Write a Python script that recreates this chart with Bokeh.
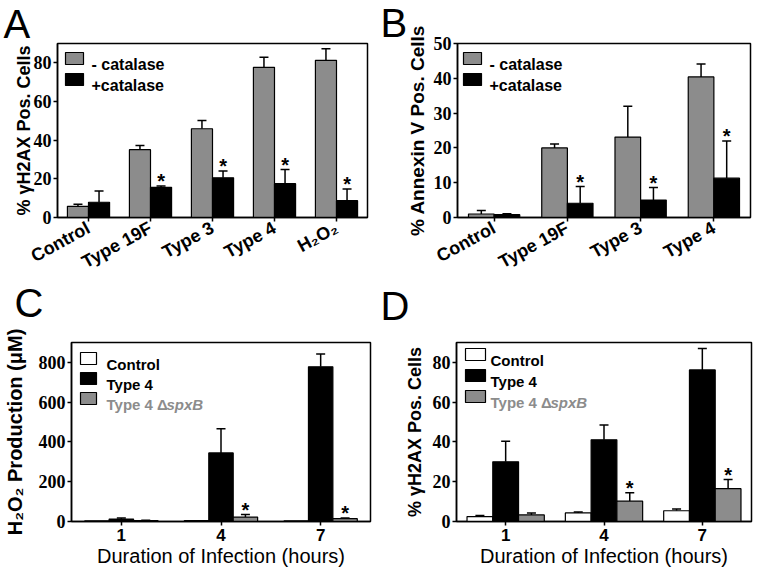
import numpy as np
from bokeh.plotting import figure
from bokeh.layouts import column, row
from bokeh.models import (Range1d, FixedTicker, ColumnDataSource, Whisker, TeeHead,
                          Label, BoxAnnotation, Title)
from bokeh.core.properties import value
from bokeh.embed import file_html
from bokeh.resources import INLINE

FONT = "Liberation Sans"
TICKFONT = "Liberation Sans Narrow"
GREY = "#8c8c8c"

# ---------------- data ----------------
# Panel A: % gammaH2AX positive cells
a_categories = ["Control", "Type 19F", "Type 3", "Type 4", "H₂O₂"]
a_minus = [5.8, 35.1, 45.9, 77.7, 81.3]
a_minus_err = [1.0, 2.1, 4.3, 5.2, 6.0]
a_plus = [7.9, 15.6, 20.5, 17.5, 8.7]
a_plus_err = [5.8, 0.7, 3.5, 7.3, 6.0]
a_plus_sig = [False, True, True, True, True]
a_yticks = [0, 20, 40, 60, 80]

# Panel B: % Annexin V positive cells
b_categories = ["Control", "Type 19F", "Type 3", "Type 4"]
b_minus = [1.0, 20.0, 23.1, 40.4]
b_minus_err = [1.0, 1.1, 8.9, 3.7]
b_plus = [0.8, 4.1, 5.0, 11.3]
b_plus_err = [0.3, 4.8, 3.6, 10.7]
b_plus_sig = [False, True, True, True]
b_yticks = [0, 10, 20, 30, 40, 50]

# Panel C: H2O2 production (uM)
c_hours = ["1", "4", "7"]
c_control = [3, 5, 3]
c_control_err = [0, 0, 0]
c_type4 = [12, 345, 778]
c_type4_err = [6, 121, 64]
c_spxb = [5, 22, 14]
c_spxb_err = [1, 13, 4]
c_spxb_sig = [False, True, True]
c_yticks = [0, 200, 400, 600, 800]

# Panel D: % gammaH2AX positive cells over time
d_hours = ["1", "4", "7"]
d_control = [2.5, 4.3, 5.4]
d_control_err = [0.5, 0.5, 0.9]
d_type4 = [30.0, 41.1, 76.2]
d_type4_err = [10.4, 7.4, 10.8]
d_spxb = [3.3, 10.2, 16.5]
d_spxb_err = [1.0, 4.2, 4.6]
d_spxb_sig = [False, True, True]
d_yticks = [0, 20, 40, 60, 80]


def base_fig(width, height, left, right, top, bottom, labels, ymax, yticks):
    n = len(labels)
    p = figure(width=width, height=height, x_range=Range1d(-0.5, n - 0.5),
               y_range=Range1d(0, ymax), output_backend="svg", toolbar_location=None,
               min_border_left=left, min_border_right=right, min_border_top=top,
               min_border_bottom=bottom, title=None)
    p.xgrid.visible = False
    p.ygrid.visible = False
    p.outline_line_color = "black"
    p.outline_line_width = 1.5
    p.outline_line_alpha = 1
    p.border_fill_color = "white"
    for ax in (p.xaxis[0], p.yaxis[0]):
        ax.axis_line_width = 1.5
        ax.axis_line_color = "black"
        ax.major_tick_line_width = 1.5
        ax.major_tick_line_color = "black"
        ax.major_tick_out = 4
        ax.major_tick_in = 0
        ax.minor_tick_out = 0
        ax.minor_tick_in = 0
        ax.major_label_text_font = FONT
        ax.major_label_text_font_style = "bold"
        ax.major_label_text_color = "black"
        ax.axis_label_text_font = FONT
        ax.axis_label_text_color = "black"
        ax.axis_label_text_font_style = "bold"
    p.xaxis.ticker = FixedTicker(ticks=list(range(n)))
    p.xaxis.major_label_overrides = {i: lab for i, lab in enumerate(labels)}
    p.yaxis.ticker = FixedTicker(ticks=yticks)
    p.yaxis.major_label_text_font = TICKFONT
    p.yaxis.major_label_text_font_size = "18px"
    p.yaxis.major_label_standoff = 2
    return p


def draw_bars(p, centers, vals, width, color):
    src = ColumnDataSource(dict(x=list(centers), top=list(vals)))
    p.vbar(x="x", top="top", bottom=0, width=width, source=src,
           fill_color=color, line_color="black", line_width=1.2)


def draw_errs(p, centers, vals, errs, sig=None):
    keep = [i for i, e in enumerate(errs) if e > 0]
    src = ColumnDataSource(dict(
        x=[centers[i] for i in keep],
        lo=[vals[i] for i in keep],
        hi=[vals[i] + errs[i] for i in keep]))
    w = Whisker(base="x", lower="lo", upper="hi", source=src, dimension="height",
                line_color="black", line_width=1.5, lower_head=None,
                upper_head=TeeHead(size=9, line_width=1.5, line_color="black"))
    p.add_layout(w)
    if sig is not None:
        idx = [i for i, s in enumerate(sig) if s]
        ssrc = ColumnDataSource(dict(x=[centers[i] for i in idx],
                                     y=[vals[i] + errs[i] for i in idx],
                                     t=["*"] * len(idx)))
        p.text(x="x", y="y", text="t", source=ssrc, text_font=value(FONT),
               text_font_style="bold", text_font_size="20px", text_align="center",
               text_baseline="alphabetic", y_offset=-5, text_color="black")


def draw_legend(p, frame_h, entries, left=8, top=10, sw=18, sh=12, step=21, gap=8,
                size="16px"):
    for i, (color, parts) in enumerate(entries):
        t = top + i * step
        p.add_layout(BoxAnnotation(left=left, right=left + sw, top=frame_h - t,
                                   bottom=frame_h - t - sh, left_units="screen",
                                   right_units="screen", top_units="screen",
                                   bottom_units="screen", fill_color=color, fill_alpha=1,
                                   line_color="black", line_width=1.2, line_alpha=1))
        x = left + sw + gap
        for text, tcolor, style, dx in parts:
            p.add_layout(Label(x=x + dx, y=frame_h - t - sh, x_units="screen",
                               y_units="screen", text=text, text_font=FONT,
                               text_font_style=style, text_font_size=size,
                               text_color=tcolor, text_baseline="alphabetic"))


def letter(p, text, offset, standoff):
    p.add_layout(Title(text=text, align="left", offset=offset, vertical_align="top",
                       standoff=standoff, text_font=FONT, text_font_size="40px",
                       text_font_style="normal", text_color="black"), "above")


def x_title(p, text):
    p.xaxis.axis_label = text
    p.xaxis.axis_label_text_font_size = "20px"
    p.xaxis.axis_label_text_font_style = "normal"
    p.xaxis.axis_label_standoff = 1


# ---------------- Panel A ----------------
A_W, A_H = 378, 285
A_L, A_R, A_T = 57, 11, 42
A_FH = 175
pA = base_fig(A_W, A_H, A_L, A_R, A_T, A_H - A_T - A_FH, a_categories, 90, a_yticks)
xa = np.arange(len(a_categories))
bw = 0.34
draw_bars(pA, xa - bw / 2, a_minus, bw, GREY)
draw_bars(pA, xa + bw / 2, a_plus, bw, "black")
draw_errs(pA, xa - bw / 2, a_minus, a_minus_err)
draw_errs(pA, xa + bw / 2, a_plus, a_plus_err, a_plus_sig)
pA.xaxis.major_label_orientation = 0.5
pA.xaxis.major_label_text_font_size = "18px"
pA.xaxis.major_label_standoff = 5
pA.yaxis.axis_label = "% γH2AX Pos. Cells"
pA.yaxis.axis_label_text_font_size = "18px"
pA.yaxis.axis_label_standoff = -3
draw_legend(pA, A_FH, [(GREY, [("- catalase", "black", "bold", 0)]),
                       ("black", [("+catalase", "black", "bold", 0)])])
letter(pA, "A", -54, -8)

# ---------------- Panel B ----------------
B_W, B_H = 379, 285
B_L, B_R, B_T = 79, 7, 43
B_FH = 175
pB = base_fig(B_W, B_H, B_L, B_R, B_T, B_H - B_T - B_FH, b_categories, 50, b_yticks)
xb = np.arange(len(b_categories))
bw = 0.35
draw_bars(pB, xb - bw / 2, b_minus, bw, GREY)
draw_bars(pB, xb + bw / 2, b_plus, bw, "black")
draw_errs(pB, xb - bw / 2, b_minus, b_minus_err)
draw_errs(pB, xb + bw / 2, b_plus, b_plus_err, b_plus_sig)
pB.xaxis.major_label_orientation = 0.5
pB.xaxis.major_label_text_font_size = "18px"
pB.xaxis.major_label_standoff = 5
pB.yaxis.axis_label = "% Annexin V Pos. Cells"
pB.yaxis.axis_label_text_font_size = "19px"
pB.yaxis.axis_label_standoff = 3
draw_legend(pB, B_FH, [(GREY, [("- catalase", "black", "bold", 0)]),
                       ("black", [("+catalase", "black", "bold", 0)])], left=6)
letter(pB, "B", -77, -6)

# ---------------- Panel C ----------------
C_W, C_H = 378, 288
C_L, C_R, C_T, C_B = 62, 8, 57, 52
pC = base_fig(C_W, C_H, C_L, C_R, C_T, C_B, c_hours, 900, c_yticks)
C_FH = C_H - C_T - C_B
xc = np.arange(len(c_hours))
bw = 0.245
draw_bars(pC, xc - bw, c_control, bw, "white")
draw_bars(pC, xc, c_type4, bw, "black")
draw_bars(pC, xc + bw, c_spxb, bw, GREY)
draw_errs(pC, xc - bw, c_control, c_control_err)
draw_errs(pC, xc, c_type4, c_type4_err)
draw_errs(pC, xc + bw, c_spxb, c_spxb_err, c_spxb_sig)
pC.xaxis.major_label_text_font_size = "17px"
pC.xaxis.major_label_standoff = 3
pC.yaxis.axis_label = "H₂O₂ Production (μM)"
pC.yaxis.axis_label_text_font_size = "20px"
pC.yaxis.axis_label_standoff = 10
x_title(pC, "Duration of Infection (hours)")
draw_legend(pC, C_FH, [("white", [("Control", "black", "bold", 0)]),
                       ("black", [("Type 4", "black", "bold", 0)]),
                       (GREY, [("Type 4 Δ", GREY, "bold", 0),
                               ("spxB", GREY, "bold italic", 60)])],
            left=9, top=10, sw=16, sh=12, step=20, gap=10, size="15px")
letter(pC, "C\n", -57, -56)

# ---------------- Panel D ----------------
D_W, D_H = 379, 288
D_L, D_R, D_T, D_B = 78, 6, 54, 52
pD = base_fig(D_W, D_H, D_L, D_R, D_T, D_B, d_hours, 90, d_yticks)
D_FH = D_H - D_T - D_B
xd = np.arange(len(d_hours))
bw = 0.262
draw_bars(pD, xd - bw, d_control, bw, "white")
draw_bars(pD, xd, d_type4, bw, "black")
draw_bars(pD, xd + bw, d_spxb, bw, GREY)
draw_errs(pD, xd - bw, d_control, d_control_err)
draw_errs(pD, xd, d_type4, d_type4_err)
draw_errs(pD, xd + bw, d_spxb, d_spxb_err, d_spxb_sig)
pD.xaxis.major_label_text_font_size = "17px"
pD.xaxis.major_label_standoff = 3
pD.yaxis.axis_label = "% γH2AX Pos. Cells"
pD.yaxis.axis_label_text_font_size = "18px"
pD.yaxis.axis_label_standoff = 5
x_title(pD, "Duration of Infection (hours)")
draw_legend(pD, D_FH, [("white", [("Control", "black", "bold", 0)]),
                       ("black", [("Type 4", "black", "bold", 0)]),
                       (GREY, [("Type 4 Δ", GREY, "bold", 0),
                               ("spxB", GREY, "bold italic", 60)])],
            left=9, top=9, sw=20, sh=12, step=21, gap=5, size="15px")
letter(pD, "D\n", -76, -62)

layout = column(row(pA, pB), row(pC, pD))
with open("out.html", "w") as f:
    f.write(file_html(layout, INLINE))
